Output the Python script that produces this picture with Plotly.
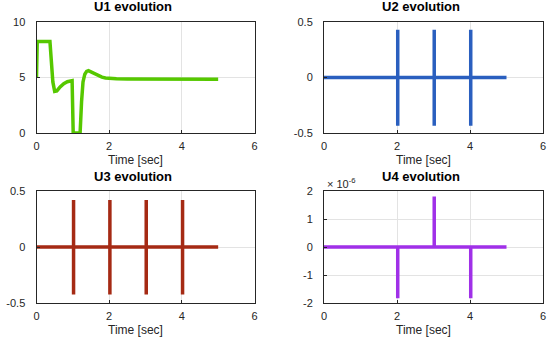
import plotly.graph_objects as go

# ---- data ----
t1 = [0, 0.02, 0.37, 0.41, 0.45, 0.5, 0.56, 0.65, 0.75, 0.85, 0.93, 0.98, 1.01, 1.2, 1.24, 1.28, 1.33, 1.38, 1.43, 1.5, 1.6, 1.7, 1.8, 1.9, 2.0, 2.2, 2.5, 3.0, 5.0]
u1 = [5.0, 8.25, 8.25, 6.6, 4.6, 3.75, 3.8, 4.15, 4.45, 4.62, 4.7, 4.72, 0.0, 0.0, 2.8, 4.6, 5.3, 5.55, 5.62, 5.5, 5.3, 5.15, 5.03, 4.96, 4.92, 4.88, 4.86, 4.85, 4.85]

t2 = [0, 2.02, 2.02, 2.02, 2.02, 3.02, 3.02, 3.02, 3.02, 4.02, 4.02, 4.02, 4.02, 5.0]
u2 = [0, 0, 0.43, -0.435, 0, 0, 0.43, -0.435, 0, 0, 0.43, -0.435, 0, 0]

t3 = [0, 1.02, 1.02, 1.02, 1.02, 2.02, 2.02, 2.02, 2.02, 3.02, 3.02, 3.02, 3.02, 4.02, 4.02, 4.02, 4.02, 5.0]
u3 = [0, 0, 0.42, -0.425, 0, 0, 0.42, -0.425, 0, 0, 0.42, -0.425, 0, 0, 0.42, -0.425, 0, 0]

t4 = [0, 2.02, 2.02, 2.02, 3.02, 3.02, 3.02, 4.02, 4.02, 4.02, 5.0]
u4 = [0, 0, -1.83e-6, 0, 0, 1.8e-6, 0, 0, -1.83e-6, 0, 0]

titles = ["U1 evolution", "U2 evolution", "U3 evolution", "U4 evolution"]
xticks = [0, 2, 4, 6]
xlabel = "Time [sec]"

W, H = 550, 339
FONT = "Liberation Sans, Arial, sans-serif"
TXT = "#262626"

# pixel boxes: (left, right, top, bottom)
boxes = [(36.5, 254.5, 22, 133), (324, 543, 22, 133), (36.5, 254.5, 191, 303), (324, 543, 191, 303)]

def xd(l, r):
    return [l / W, r / W]

def yd(t, b):
    return [1 - b / H, 1 - t / H]

fig = go.Figure()
series = [(t1, u1, "#56c800"), (t2, u2, "#2a5fbf"), (t3, u3, "#a52a14"), (t4, u4, "#a030e8")]
for i, (t, u, c) in enumerate(series):
    sfx = "" if i == 0 else str(i + 1)
    fig.add_trace(go.Scatter(x=t, y=u, mode="lines", line=dict(color=c, width=3.5),
                             xaxis="x" + sfx, yaxis="y" + sfx, showlegend=False, hoverinfo="skip"))

yranges = [[0, 10], [-0.5, 0.5], [-0.5, 0.5], [-2e-6, 2e-6]]
ytickv = [[0, 5, 10], [-0.5, 0, 0.5], [-0.5, 0, 0.5], [-2e-6, -1e-6, 0, 1e-6, 2e-6]]
ytickt = [["0", "5", "10"], ["-0.5", "0", "0.5"], ["-0.5", "0", "0.5"], ["-2", "-1", "0", "1", "2"]]

axcommon = dict(showline=True, linecolor="#262626", linewidth=1, mirror=True,
                ticks="inside", ticklen=3, tickcolor="#262626", automargin=False,
                showgrid=True, gridcolor="#e3e3e3", gridwidth=1, zeroline=False,
                tickfont=dict(family=FONT, size=11, color=TXT))

layout = dict(width=W, height=H, margin=dict(l=0, r=0, t=0, b=0), template="none",
              paper_bgcolor="white", plot_bgcolor="white", annotations=[])
for i, (l, r, tp, b) in enumerate(boxes):
    sfx = "" if i == 0 else str(i + 1)
    layout["xaxis" + sfx] = dict(domain=xd(l, r), range=[0, 6], tickvals=xticks,
                                 anchor="y" + sfx, ticklabelstandoff=3, **axcommon)
    layout["yaxis" + sfx] = dict(domain=yd(tp, b), range=yranges[i], tickvals=ytickv[i],
                                 ticktext=ytickt[i], anchor="x" + sfx, ticklabelstandoff=8, **axcommon)
    cx = (l + r) / 2 - 13
    layout["annotations"].append(dict(text="<b>" + titles[i] + "</b>", x=cx / W, y=1 - (tp - 15) / H,
                                      xref="paper", yref="paper", showarrow=False,
                                      font=dict(family=FONT, size=13, color="black"),
                                      xanchor="center", yanchor="middle"))
    layout["annotations"].append(dict(text=xlabel, x=((l + r) / 2 - 10) / W, y=1 - (b + 27) / H,
                                      xref="paper", yref="paper", showarrow=False,
                                      font=dict(family=FONT, size=12, color=TXT),
                                      xanchor="center", yanchor="middle"))

# exponent label for U4
layout["annotations"].append(dict(text="× 10<sup>-6</sup>", x=325 / W, y=1 - 183 / H,
                                  xref="paper", yref="paper", showarrow=False,
                                  font=dict(family=FONT, size=11, color=TXT),
                                  xanchor="left", yanchor="middle"))

fig.update_layout(**layout)
fig.write_html("out.html", config={"displayModeBar": False},
               post_script="document.body.style.margin='0';document.body.style.padding='0';")
